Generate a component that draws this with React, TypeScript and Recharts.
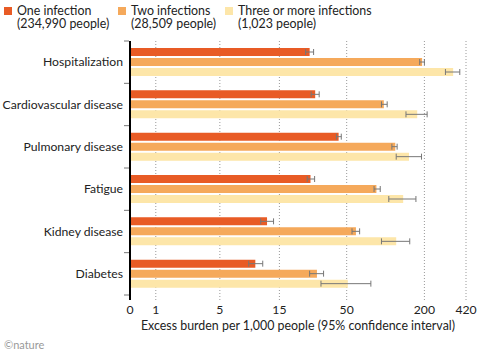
import React from "react";
import { BarChart, Bar, XAxis, YAxis, CartesianGrid, ErrorBar, Legend } from "recharts";

const categories = ["Hospitalization", "Cardiovascular disease", "Pulmonary disease", "Fatigue", "Kidney disease", "Diabetes"];

const oneValues = [25.8, 28.5, 43.3, 26.2, 12.0, 9.7];
const oneLow = [24.0, 26.5, 41.6, 24.7, 10.7, 8.6];
const oneHigh = [27.7, 30.6, 45.4, 28.2, 13.5, 11.1];

const twoValues = [192, 97, 119, 85, 59, 29.4];
const twoLow = [184, 93, 112, 81.5, 55, 25.8];
const twoHigh = [200, 103, 123, 91, 63, 33.1];

const threeValues = [334, 176, 152, 137, 121, 51];
const threeLow = [291, 144, 121, 106, 93, 31.6];
const threeHigh = [376, 210, 190, 172, 154, 77];

const xTickValues = [0, 1, 5, 15, 50, 200, 420];
const xTickLabels = ["0", "1", "5", "15", "50", "200", "420"];

const seriesNames = ["One infection", "Two infections", "Three or more infections"];
const seriesSub = ["(234,990 people)", "(28,509 people)", "(1,023 people)"];
const colors = ["#e85b25", "#f5a95b", "#fde6a9"];

// inverse-hyperbolic-sine axis scale
const C = 2.1;
const T = (v: number) => Math.asinh(v / C);

const data = categories.map((name, i) => ({
  name,
  one: T(oneValues[i]),
  oneErr: [T(oneValues[i]) - T(oneLow[i]), T(oneHigh[i]) - T(oneValues[i])],
  two: T(twoValues[i]),
  twoErr: [T(twoValues[i]) - T(twoLow[i]), T(twoHigh[i]) - T(twoValues[i])],
  three: T(threeValues[i]),
  threeErr: [T(threeValues[i]) - T(threeLow[i]), T(threeHigh[i]) - T(threeValues[i])],
}));

const xTicks = xTickValues.map(T);

const YTick = (props: any) => {
  const { x, y, payload, index } = props;
  const half = payload && typeof payload.offset === "number" && payload.offset > 0 ? payload.offset : 21;
  const last = index === categories.length - 1;
  return (
    <g>
      <line x1={x + 1} x2={x + 6} y1={y - half} y2={y - half} stroke="#777" strokeWidth={1} />
      {last && <line x1={x + 1} x2={x + 6} y1={y + half} y2={y + half} stroke="#777" strokeWidth={1} />}
      <text x={x} y={y} dy="0.35em" textAnchor="end" fontSize={12.2} fill="#222">
        {payload.value}
      </text>
    </g>
  );
};

const LegendContent = () => (
  <div style={{ position: "relative", width: 480, height: 34, fontSize: 12.4, lineHeight: "13.5px", color: "#222" }}>
    {seriesNames.map((n, i) => (
      <div key={n} style={{ position: "absolute", left: [4, 118, 225][i], top: 3.5, display: "flex" }}>
        <div style={{ width: 8, height: 8, background: colors[i], marginTop: 3, marginRight: 5 }} />
        <div>
          <div>{n}</div>
          <div>{seriesSub[i]}</div>
        </div>
      </div>
    ))}
  </div>
);

export default function App() {
  return (
    <div style={{ position: "absolute", left: 0, top: 0, width: 480, height: 356, fontFamily: "Lato, sans-serif", background: "#fff" }}>
      <BarChart
        width={480}
        height={356}
        data={data}
        layout="vertical"
        margin={{ top: 41, right: 14, bottom: 16, left: 0 }}
        barSize={8}
        barGap={2}
      >
        <CartesianGrid horizontal={false} vertical={true} stroke="#999" strokeDasharray="1 2" />
        <XAxis
          type="number"
          domain={[0, T(420)]}
          ticks={xTicks}
          interval={0}
          tickFormatter={(v: number) => {
            let best = 0;
            xTicks.forEach((t, i) => {
              if (Math.abs(t - v) < Math.abs(xTicks[best] - v)) best = i;
            });
            return xTickLabels[best];
          }}
          tickLine={false}
          axisLine={false}
          tickSize={0}
          tickMargin={5}
          height={40}
          tick={{ fontSize: 12.2, fill: "#222" }}
          label={{ value: "Excess burden per 1,000 people (95% confidence interval)", position: "insideBottom", offset: 10, fontSize: 12.4, fill: "#222" }}
        />
        <YAxis
          type="category"
          dataKey="name"
          width={130}
          interval={0}
          tickLine={false}
          tickSize={0}
          tickMargin={7}
          axisLine={{ stroke: "#000", strokeWidth: 2 }}
          tick={<YTick />}
          padding={{ top: 0, bottom: 5 }}
        />
        <Legend layout="horizontal" verticalAlign="middle" align="center" wrapperStyle={{ top: 0, left: 0, width: 480 }} content={<LegendContent />} />
        <Bar dataKey="one" name={seriesNames[0]} fill={colors[0]} isAnimationActive={false}>
          <ErrorBar dataKey="oneErr" direction="x" width={3} stroke="#777" strokeWidth={1} isAnimationActive={false} />
        </Bar>
        <Bar dataKey="two" name={seriesNames[1]} fill={colors[1]} isAnimationActive={false}>
          <ErrorBar dataKey="twoErr" direction="x" width={3} stroke="#777" strokeWidth={1} isAnimationActive={false} />
        </Bar>
        <Bar dataKey="three" name={seriesNames[2]} fill={colors[2]} isAnimationActive={false}>
          <ErrorBar dataKey="threeErr" direction="x" width={3} stroke="#777" strokeWidth={1} isAnimationActive={false} />
        </Bar>
      </BarChart>
      <div style={{ position: "absolute", left: 4, top: 338, fontSize: 11, color: "#999" }}>©nature</div>
    </div>
  );
}
